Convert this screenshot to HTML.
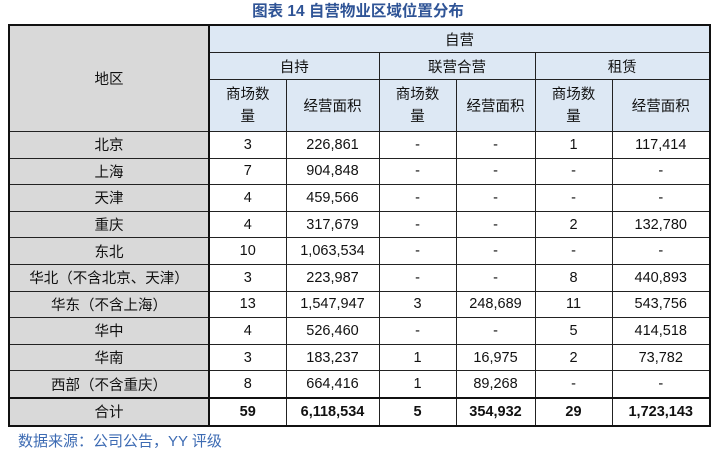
<!DOCTYPE html>
<html><head><meta charset="utf-8"><style>
body{margin:0;width:716px;height:453px;background:#fff;font-family:"Liberation Sans","Noto Sans CJK SC",sans-serif;position:relative;overflow:hidden}
.t{position:absolute;left:0;top:2px;width:716px;text-align:center;font-size:15.5px;font-weight:bold;color:#2f5496;line-height:20px}
table{position:absolute;left:8px;top:24px;border-collapse:collapse;border:2px solid #111;font-size:14.5px;color:#111}
td{border:1px solid #222;text-align:center;padding:0;height:25.6px;background:#fff}
td.g{background:#d9d9d9}
td.h{background:#dde8f4}
.L{border-right:2px solid #111}
tr.tot td{border-top:2px solid #111;font-weight:bold}
tr.tot td.g{font-weight:normal}
.s{position:absolute;left:18px;top:430px;font-size:15px;color:#3d6bb3}
</style></head><body>
<div class="t">图表 14 自营物业区域位置分布</div>
<table>
<colgroup><col style="width:200px"><col style="width:77px"><col style="width:93px"><col style="width:77px"><col style="width:79px"><col style="width:77px"><col style="width:98px"></colgroup>
<tr><td class="g L" rowspan="3">地区</td><td class="h" colspan="6" style="height:26px">自营</td></tr>
<tr><td class="h" colspan="2" style="height:26px">自持</td><td class="h" colspan="2">联营合营</td><td class="h" colspan="2">租赁</td></tr>
<tr><td class="h" style="height:51px;line-height:22px">商场数<br>量</td><td class="h">经营面积</td><td class="h" style="line-height:22px">商场数<br>量</td><td class="h">经营面积</td><td class="h" style="line-height:22px">商场数<br>量</td><td class="h">经营面积</td></tr>
<tr><td class="g L">北京</td><td>3</td><td>226,861</td><td>-</td><td>-</td><td>1</td><td>117,414</td></tr>
<tr><td class="g L">上海</td><td>7</td><td>904,848</td><td>-</td><td>-</td><td>-</td><td>-</td></tr>
<tr><td class="g L">天津</td><td>4</td><td>459,566</td><td>-</td><td>-</td><td>-</td><td>-</td></tr>
<tr><td class="g L">重庆</td><td>4</td><td>317,679</td><td>-</td><td>-</td><td>2</td><td>132,780</td></tr>
<tr><td class="g L">东北</td><td>10</td><td>1,063,534</td><td>-</td><td>-</td><td>-</td><td>-</td></tr>
<tr><td class="g L">华北（不含北京、天津）</td><td>3</td><td>223,987</td><td>-</td><td>-</td><td>8</td><td>440,893</td></tr>
<tr><td class="g L">华东（不含上海）</td><td>13</td><td>1,547,947</td><td>3</td><td>248,689</td><td>11</td><td>543,756</td></tr>
<tr><td class="g L">华中</td><td>4</td><td>526,460</td><td>-</td><td>-</td><td>5</td><td>414,518</td></tr>
<tr><td class="g L">华南</td><td>3</td><td>183,237</td><td>1</td><td>16,975</td><td>2</td><td>73,782</td></tr>
<tr><td class="g L">西部（不含重庆）</td><td>8</td><td>664,416</td><td>1</td><td>89,268</td><td>-</td><td>-</td></tr>
<tr class="tot"><td class="g L">合计</td><td>59</td><td>6,118,534</td><td>5</td><td>354,932</td><td>29</td><td>1,723,143</td></tr>
</table>
<div class="s">数据来源：公司公告，YY 评级</div>
</body></html>
